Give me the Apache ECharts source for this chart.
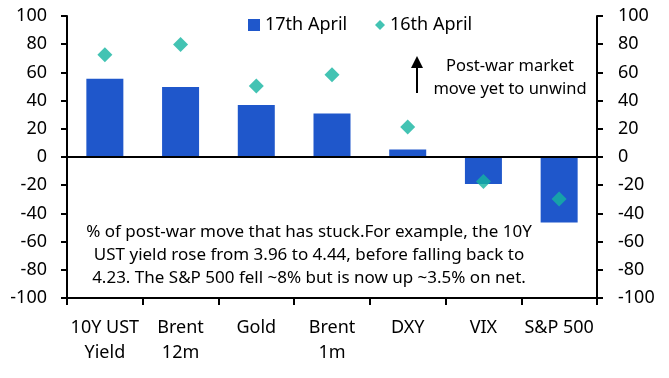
<!DOCTYPE html>
<html><head><meta charset="utf-8">
<script src="https://cdn.jsdelivr.net/npm/echarts@6/dist/echarts.min.js"></script>
<style>html,body{margin:0;padding:0;background:#fff}#c{width:669px;height:378px}</style>
</head><body><div id="c"></div>
<script>
const categories = ['10Y UST\nYield', 'Brent\n12m', 'Gold', 'Brent\n1m', 'DXY', 'VIX', 'S&P 500'];
const april17 = [55.5, 49.6, 36.9, 30.9, 5.4, -19.1, -46.4];
const april16 = [72.6, 79.7, 50.4, 58.4, 21.3, -17.3, -29.8];
const yTicks = { min: -100, max: 100, interval: 20 };

const FONT = 'Noto Sans';
const chart = echarts.init(document.getElementById('c'));
const axisCommon = {
  type: 'value', min: yTicks.min, max: yTicks.max, interval: yTicks.interval,
  axisLine: { show: true, lineStyle: { color: '#000', width: 2 } },
  axisTick: { show: true, length: 6, lineStyle: { color: '#000', width: 2 } },
  splitLine: { show: false },
  axisLabel: { color: '#000', fontSize: 18, fontFamily: FONT, margin: 20 }
};
chart.setOption({
  animation: false,
  grid: { left: 67, right: 72, top: 16, bottom: 80 },
  legend: [
    { left: 243, top: 11, itemWidth: 12, itemHeight: 12, icon: 'rect',
      data: ['17th April'], textStyle: { fontSize: 18, fontFamily: FONT, color: '#000' } },
    { left: 370, top: 11, itemWidth: 10, itemHeight: 10, icon: 'diamond',
      data: ['16th April'], textStyle: { fontSize: 18, fontFamily: FONT, color: '#000' } }
  ],
  xAxis: {
    type: 'category', data: categories,
    axisLine: { onZero: false, lineStyle: { color: '#000', width: 2 } },
    axisTick: { show: true, length: 7, lineStyle: { color: '#000', width: 2 } },
    axisLabel: { color: '#000', fontSize: 18, fontFamily: FONT, margin: 17, lineHeight: 25, interval: 0 }
  },
  yAxis: [
    Object.assign({}, axisCommon, { position: 'left' }),
    Object.assign({}, axisCommon, { position: 'right', axisLabel: Object.assign({}, axisCommon.axisLabel, { margin: 21 }) })
  ],
  series: [
    { name: '17th April', type: 'bar', data: april17, barWidth: 37,
      itemStyle: { color: '#1f57cb' },
      markLine: { silent: true, symbol: 'none', label: { show: false },
        lineStyle: { color: '#000', width: 2, type: 'solid' }, data: [{ yAxis: 0 }] } },
    { name: '16th April', type: 'scatter', data: april16, symbol: 'diamond', symbolSize: 15,
      itemStyle: { color: '#14b4a0' }, z: 5 }
  ],
  graphic: [
    { type: 'text', x: 510, y: 55, style: { text: 'Post-war market\nmove yet to unwind', fontSize: 16.5, fontFamily: FONT,
      fill: '#000', align: 'center', lineHeight: 23 } },
    { type: 'line', shape: { x1: 417, y1: 67, x2: 417, y2: 93 }, style: { stroke: '#000', lineWidth: 2 } },
    { type: 'polygon', shape: { points: [[417, 56], [411, 68], [423, 68]] }, style: { fill: '#000' } },
    { type: 'text', x: 309, y: 221, style: { text: '% of post-war move that has stuck.For example, the 10Y\nUST yield rose from 3.96 to 4.44, before falling back to\n4.23. The S&P 500 fell ~8% but is now up ~3.5% on net.',
      fontSize: 17, fontFamily: FONT, fill: '#000', align: 'center', lineHeight: 23 } }
  ]
});
</script></body></html>
